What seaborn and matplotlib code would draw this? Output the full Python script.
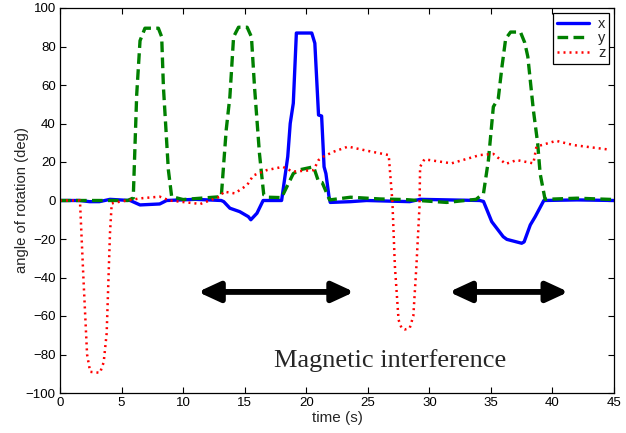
import matplotlib
matplotlib.use("Agg")
import matplotlib.pyplot as plt
import seaborn as sns
import pandas as pd

# x rotation (blue solid)
x_time = [0, 1.6, 2.4, 3.2, 4.06, 5.7, 6.5, 8.1, 8.66, 11.0, 13.1, 13.3, 13.8, 14.6, 15.3, 15.5,
          16.0, 16.5, 18.0, 18.5, 18.7, 18.95, 19.2, 20.45, 20.7, 21.0, 21.25, 21.45, 21.6, 21.85,
          21.95, 23.6, 24.9, 28.4, 29.25, 34.1, 34.4, 35.07, 36.0, 36.3, 37.5, 37.7, 38.2, 38.6,
          39.3, 42.0, 45]
x_angle = [0, 0, -0.6, -0.6, 0.6, 0, -2.3, -1.8, 0, 0.6, 0, -0.6, -4, -5.8, -8.4, -10,
           -6.6, 0, 0, 22.8, 40, 50.5, 87, 87, 81.7, 44.4, 43.9, 17.5, 14, 2,
           -1, -0.6, 0, -0.6, 0.6, 0, -0.5, -11, -18.8, -20.2, -22.2, -21.5, -12.7, -8.4,
           0, 0.3, 0]

# y rotation (green dashed)
y_time = [0, 5.5, 5.95, 6.23, 6.5, 6.9, 7.99, 8.26, 8.4, 8.8, 9.07, 10.0, 13.1, 13.5, 13.8,
          14.1, 14.5, 15.2, 15.55, 15.8, 16.2, 16.55, 16.9, 18.0, 18.95, 19.5, 20.6, 21.0, 21.3,
          21.9, 23.6, 26.0, 28.0, 31.4, 33.8, 34.4, 34.8, 35.2, 35.6, 35.9, 36.2, 36.6, 37.4,
          37.75, 38.0, 38.45, 38.8, 39.0, 39.4, 42.0, 45]
y_angle = [0, 0, 1.3, 55, 83, 89.5, 89.5, 85, 59, 16, 2, 0.5, 2, 36.6, 54,
           85, 90, 90, 85, 59, 24.5, 3, 1.7, 1.5, 14, 16, 17.5, 9.8, 9.3,
           0.3, 1.7, 0.8, 0.5, -1, 0.6, 3.7, 21, 48.7, 53, 69.5, 84, 87.5, 87.5,
           82, 74.7, 47, 29.7, 14, 0.6, 1.2, 0.5]

# z rotation (red dotted)
z_time = [0, 1.62, 1.9, 2.2, 2.45, 3.25, 3.55, 3.79, 4.06, 4.2, 4.87, 6.5, 8.1, 8.9, 11.4, 13.0,
          13.3, 14.2, 15.2, 15.7, 16.8, 18.1, 18.9, 20.6, 21.0, 21.4, 22.2, 23.4, 24.9, 26.7,
          27.0, 27.2, 27.5, 27.75, 28.0, 28.4, 28.7, 28.95, 29.2, 29.25, 29.6, 31.8, 34.1, 35.2,
          36.2, 37.1, 38.45, 38.7, 40.3, 41.7, 44.4]
z_angle = [0, 0, -40, -80, -89, -89.5, -84, -69, -17, -1.5, -0.6, 1.1, 2, 0, -1.8, 2,
           4.6, 3.7, 8, 13, 15.8, 17.5, 15, 15.8, 21, 22.8, 25.3, 28, 25.9, 23.6,
           -0.6, -34, -62, -66.4, -67, -66.4, -60, -34, -3.2, 17.5, 21.4, 19.3, 23.6, 24.2,
           19, 21, 19.3, 28, 31, 28.8, 26.6]

# interference intervals marked by arrows
arrow_spans = [(11.2, 23.9), (31.6, 41.3)]
arrow_level = -47.5

sns.set_style("ticks")
plt.rcParams['font.family'] = ['Liberation Sans', 'DejaVu Sans']

fig = plt.figure(figsize=(6.26, 4.33), dpi=100)
ax = fig.add_axes([60 / 626, 1 - 393 / 433, 554 / 626, 385 / 433])

sns.lineplot(x=x_time, y=x_angle, ax=ax, color='#0000ff', lw=2.4, label='x', sort=False)
sns.lineplot(x=y_time, y=y_angle, ax=ax, color='#008000', lw=2.4, label='y', sort=False)
sns.lineplot(x=z_time, y=z_angle, ax=ax, color='#ff0000', lw=1.8, label='z', sort=False)
ax.lines[1].set_linestyle((0, (3.2, 1.6)))
ax.lines[2].set_linestyle((0, (0.8, 1.6)))
for ln in ax.lines:
    ln.set_solid_joinstyle('round')
    ln.set_dash_joinstyle('round')

for a, b in arrow_spans:
    ax.annotate('', xy=(a, arrow_level), xytext=(b, arrow_level),
                arrowprops=dict(arrowstyle='<|-|>,head_length=1.3,head_width=0.6',
                                color='black', lw=4.2, shrinkA=0, shrinkB=0))

ax.text(26.8, -83, 'Magnetic interference', family='Liberation Serif', fontsize=19,
        ha='center', va='center')

ax.set_xlim(0, 45)
ax.set_ylim(-100, 100)
ax.set_xticks(range(0, 46, 5))
ax.set_yticks(range(-100, 101, 20))
ax.tick_params(direction='in', length=4, width=0.8, top=True, right=True,
               labelsize=9.5, pad=3, colors='black')
for s in ax.spines.values():
    s.set_linewidth(0.9)
    s.set_color('black')
ax.set_xlabel('time (s)', fontsize=11, labelpad=1)
ax.set_ylabel('angle of rotation (deg)', fontsize=10.7)
ax.yaxis.set_label_coords(-0.056, 0.5)

leg = ax.legend(loc='upper right', fontsize=10.5, handlelength=2.2, labelspacing=0.05,
                borderaxespad=0.35, fancybox=False, framealpha=1, edgecolor='black',
                borderpad=0.25, handletextpad=0.6)
leg.get_frame().set_linewidth(0.9)

fig.savefig('out.png', dpi=100)
